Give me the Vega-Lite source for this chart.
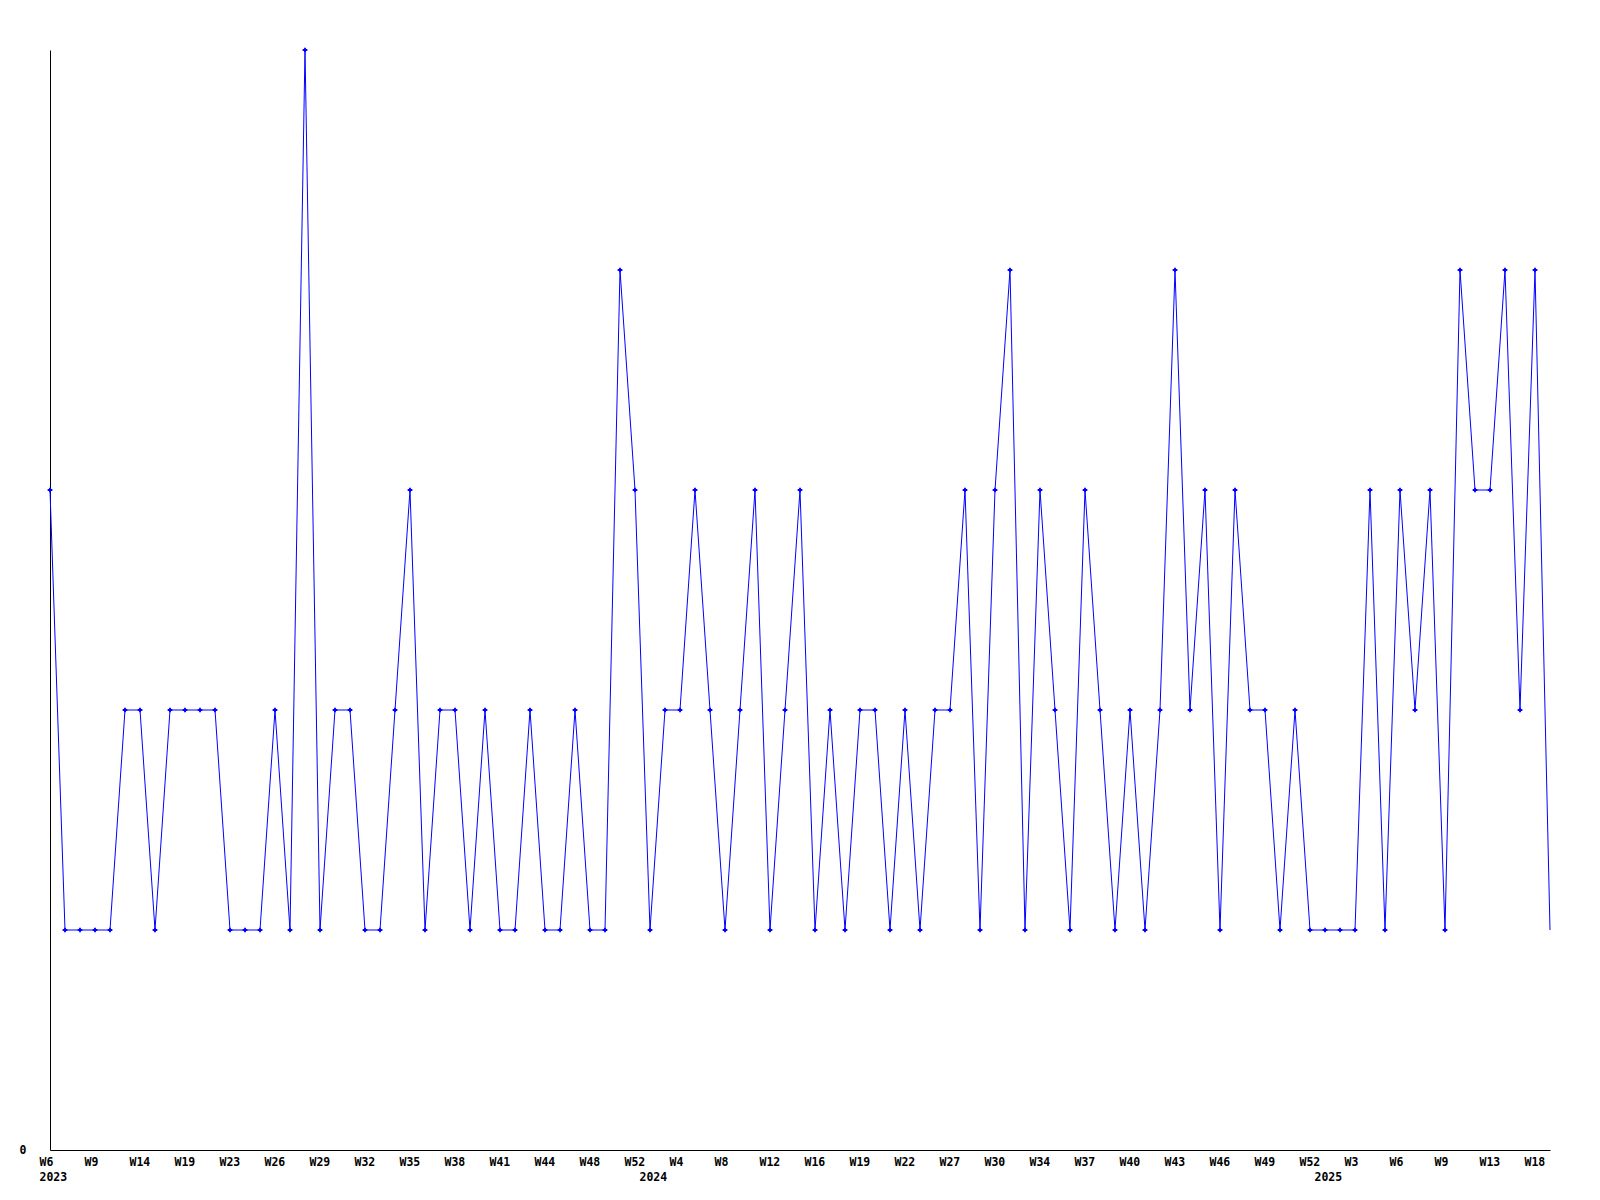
{
  "$schema": "https://vega.github.io/schema/vega-lite/v6.json",
  "autosize": {"type": "none"},
  "padding": {"left": 50, "top": 50, "right": 50, "bottom": 50},
  "width": 1500,
  "height": 1100,
  "background": "white",
  "config": {"view": {"stroke": null}},
  "data": {"values": [
    {"week":"2023-W6","count":3},{"week":"2023-W7","count":1},{"week":"2023-W8","count":1},{"week":"2023-W9","count":1},
    {"week":"2023-W10","count":1},{"week":"2023-W12","count":2},{"week":"2023-W14","count":2},{"week":"2023-W15","count":1},
    {"week":"2023-W17","count":2},{"week":"2023-W19","count":2},{"week":"2023-W20","count":2},{"week":"2023-W22","count":2},
    {"week":"2023-W23","count":1},{"week":"2023-W24","count":1},{"week":"2023-W25","count":1},{"week":"2023-W26","count":2},
    {"week":"2023-W27","count":1},{"week":"2023-W28","count":5},{"week":"2023-W29","count":1},{"week":"2023-W30","count":2},
    {"week":"2023-W31","count":2},{"week":"2023-W32","count":1},{"week":"2023-W33","count":1},{"week":"2023-W34","count":2},
    {"week":"2023-W35","count":3},{"week":"2023-W36","count":1},{"week":"2023-W37","count":2},{"week":"2023-W38","count":2},
    {"week":"2023-W39","count":1},{"week":"2023-W40","count":2},{"week":"2023-W41","count":1},{"week":"2023-W42","count":1},
    {"week":"2023-W43","count":2},{"week":"2023-W44","count":1},{"week":"2023-W45","count":1},{"week":"2023-W47","count":2},
    {"week":"2023-W48","count":1},{"week":"2023-W49","count":1},{"week":"2023-W51","count":4},{"week":"2023-W52","count":3},
    {"week":"2024-W1","count":1},{"week":"2024-W3","count":2},{"week":"2024-W4","count":2},{"week":"2024-W5","count":3},
    {"week":"2024-W7","count":2},{"week":"2024-W8","count":1},{"week":"2024-W9","count":2},{"week":"2024-W11","count":3},
    {"week":"2024-W12","count":1},{"week":"2024-W13","count":2},{"week":"2024-W15","count":3},{"week":"2024-W16","count":1},
    {"week":"2024-W17","count":2},{"week":"2024-W18","count":1},{"week":"2024-W19","count":2},{"week":"2024-W20","count":2},
    {"week":"2024-W21","count":1},{"week":"2024-W22","count":2},{"week":"2024-W24","count":1},{"week":"2024-W26","count":2},
    {"week":"2024-W27","count":2},{"week":"2024-W28","count":3},{"week":"2024-W29","count":1},{"week":"2024-W30","count":3},
    {"week":"2024-W31","count":4},{"week":"2024-W33","count":1},{"week":"2024-W34","count":3},{"week":"2024-W35","count":2},
    {"week":"2024-W36","count":1},{"week":"2024-W37","count":3},{"week":"2024-W38","count":2},{"week":"2024-W39","count":1},
    {"week":"2024-W40","count":2},{"week":"2024-W41","count":1},{"week":"2024-W42","count":2},{"week":"2024-W43","count":4},
    {"week":"2024-W44","count":2},{"week":"2024-W45","count":3},{"week":"2024-W46","count":1},{"week":"2024-W47","count":3},
    {"week":"2024-W48","count":2},{"week":"2024-W49","count":2},{"week":"2024-W50","count":1},{"week":"2024-W51","count":2},
    {"week":"2024-W52","count":1},{"week":"2025-W1","count":1},{"week":"2025-W2","count":1},{"week":"2025-W3","count":1},
    {"week":"2025-W4","count":3},{"week":"2025-W5","count":1},{"week":"2025-W6","count":3},{"week":"2025-W7","count":2},
    {"week":"2025-W8","count":3},{"week":"2025-W9","count":1},{"week":"2025-W10","count":4},{"week":"2025-W12","count":3},
    {"week":"2025-W13","count":3},{"week":"2025-W15","count":4},{"week":"2025-W16","count":2},{"week":"2025-W18","count":4},
    {"week":"2025-W19","count":1}
  ]},
  "encoding": {
    "x": {
      "field": "week", "type": "ordinal", "sort": null,
      "scale": {"type": "point", "padding": 0},
      "axis": {
        "title": null, "ticks": false, "grid": false,
        "domainColor": "black", "domainWidth": 1,
        "values": ["2023-W6","2023-W9","2023-W14","2023-W19","2023-W23","2023-W26","2023-W29","2023-W32","2023-W35","2023-W38","2023-W41","2023-W44","2023-W48","2023-W52","2024-W1","2024-W4","2024-W8","2024-W12","2024-W16","2024-W19","2024-W22","2024-W27","2024-W30","2024-W34","2024-W37","2024-W40","2024-W43","2024-W46","2024-W49","2024-W52","2025-W1","2025-W3","2025-W6","2025-W9","2025-W13","2025-W18"],
        "labelExpr": "datum.value == '2023-W6' ? ['W6','2023'] : datum.value == '2024-W1' ? ['','2024'] : datum.value == '2025-W1' ? ['','2025'] : split(datum.value,'-')[1]",
        "labelAngle": 0, "labelAlign": "left", "labelBaseline": "top", "labelOffset": -11,
        "labelPadding": 6, "labelOverlap": false, "labelFlush": false,
        "labelFont": "DejaVu Sans Mono", "labelFontWeight": "bold", "labelFontSize": 11.5,
        "labelColor": "black", "labelLineHeight": 15
      }
    },
    "y": {
      "field": "count", "type": "quantitative",
      "scale": {"domain": [0, 5], "nice": false, "zero": true},
      "axis": {
        "title": null, "ticks": false, "grid": false, "values": [0],
        "domainColor": "black", "domainWidth": 1,
        "labelPadding": 24, "labelFont": "DejaVu Sans Mono", "labelFontWeight": "bold",
        "labelFontSize": 11.5, "labelColor": "black", "labelBaseline": "middle"
      }
    }
  },
  "layer": [
    {"mark": {"type": "line", "color": "#0000ff", "strokeWidth": 1}},
    {
      "transform": [{"filter": "datum.week != '2025-W19'"}],
      "mark": {"type": "point", "shape": "cross", "filled": true, "color": "#0000ff", "size": 22, "opacity": 1}
    }
  ]
}
